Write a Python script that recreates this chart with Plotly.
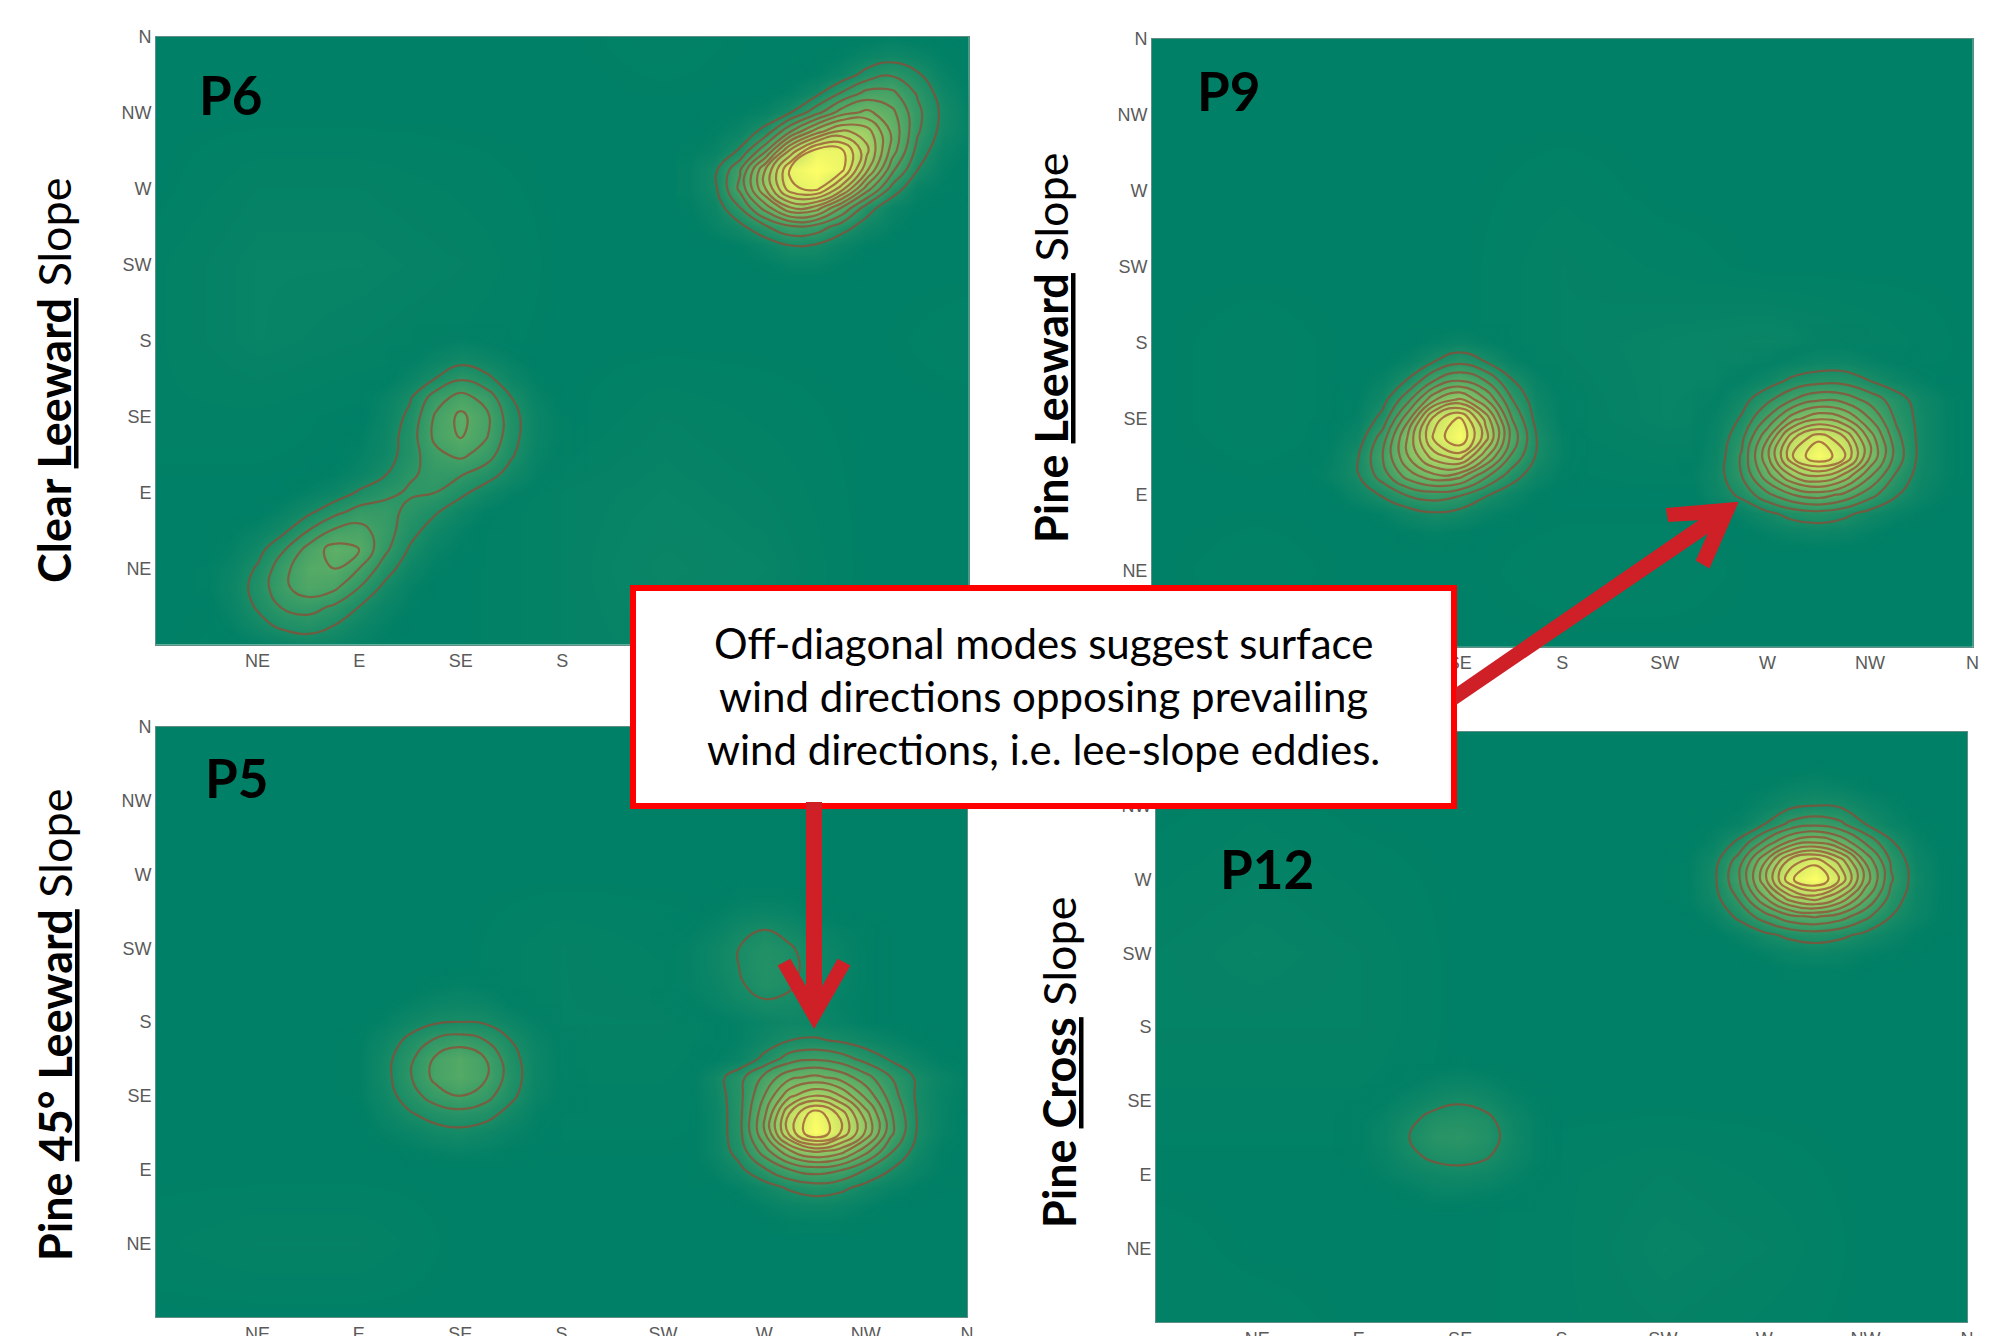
import plotly.graph_objects as go

W, H = 2001, 1336
COMPASS = ["NE", "E", "SE", "S", "SW", "W", "NW", "N"]
TICKS = [1, 2, 3, 4, 5, 6, 7, 8]
BG_AXIS = [0, 1, 2, 3, 4, 5, 6, 7, 8]
LEVEL_START, LEVEL_END, LEVEL_STEP = 10, 90, 8

# ---------- faint background density, y = 0..8 bottom to top ----------
P6_BG = [
    [0, 1, 0, 0, 2, 3, 2, 0, 0],
    [0, 0, 0, 0, 2, 4, 3, 0, 0],
    [0, 0, 0, 0, 2, 3, 2, 0, 0],
    [1, 1, 0, 0, 0, 2, 1, 0, 0],
    [1, 3, 2, 1, 0, 0, 0, 0, 1],
    [1, 3, 3, 2, 0, 0, 0, 0, 0],
    [0, 2, 2, 1, 0, 0, 0, 0, 0],
    [0, 0, 0, 0, 0, 0, 0, 0, 0],
    [0, 0, 0, 0, 0, 1, 0, 0, 0],
]
P9_BG = [
    [0, 0, 0, 0, 0, 0, 0, 0, 0],
    [0, 1, 0, 0, 1, 1, 0, 0, 0],
    [0, 0, 0, 0, 0, 0, 0, 0, 0],
    [0, 1, 0, 0, 1, 3, 2, 0, 0],
    [0, 1, 0, 0, 2, 3, 4, 2, 0],
    [0, 0, 0, 0, 2, 1, 0, 0, 0],
    [0, 0, 0, 0, 1, 0, 0, 0, 0],
    [0, 0, 0, 0, 0, 0, 0, 0, 0],
    [0, 0, 0, 0, 0, 0, 0, 0, 0],
]
P5_BG = [
    [0, 0, 0, 0, 0, 0, 0, 0, 0],
    [1, 2, 2, 0, 0, 0, 0, 0, 0],
    [0, 0, 0, 0, 0, 0, 0, 0, 0],
    [0, 0, 0, 0, 1, 1, 0, 0, 0],
    [0, 0, 0, 0, 2, 2, 0, 0, 0],
    [0, 0, 0, 0, 2, 1, 0, 0, 0],
    [0, 0, 0, 0, 0, 0, 0, 0, 0],
    [0, 0, 0, 0, 0, 0, 0, 0, 0],
    [0, 0, 0, 0, 0, 0, 0, 0, 0],
]
P12_BG = [
    [1, 1, 0, 0, 1, 2, 1, 0, 0],
    [1, 0, 0, 0, 1, 3, 2, 0, 0],
    [0, 0, 0, 0, 1, 2, 1, 0, 0],
    [1, 1, 1, 0, 0, 0, 0, 0, 0],
    [2, 2, 2, 0, 0, 0, 0, 0, 0],
    [2, 3, 2, 0, 0, 0, 0, 0, 0],
    [1, 2, 1, 0, 0, 0, 0, 0, 0],
    [0, 1, 0, 0, 0, 0, 0, 0, 0],
    [0, 0, 0, 0, 0, 0, 0, 0, 0],
]

# ---------- density modes on quarter-compass grids, percent of peak ----------
P6_A_X = [5.25, 5.5, 5.75, 6, 6.25, 6.5, 6.75, 7, 7.25, 7.5, 7.75, 8]
P6_A_Y = [4.75, 5, 5.25, 5.5, 5.75, 6, 6.25, 6.5, 6.75, 7, 7.25, 7.5, 7.75, 8]
P6_A_Z = [
    [0, 0, 0, 0, 0, 0, 0, 0, 0, 0, 0, 0],
    [0, 0, 0, 1, 3, 3, 1, 0, 0, 0, 0, 0],
    [0, 0, 1, 5, 10, 9, 4, 1, 0, 0, 0, 0],
    [0, 3, 8, 17, 25, 23, 14, 6, 2, 0, 0, 0],
    [1, 5, 18, 38, 58, 55, 34, 14, 4, 1, 0, 0],
    [2, 8, 28, 58, 88, 93, 70, 38, 15, 3, 1, 0],
    [2, 8, 25, 58, 92, 100, 93, 60, 28, 10, 2, 0],
    [1, 3, 11, 32, 68, 93, 92, 68, 38, 15, 4, 1],
    [0, 1, 4, 13, 34, 54, 68, 62, 40, 19, 7, 2],
    [0, 0, 1, 3, 10, 23, 38, 44, 36, 20, 8, 2],
    [0, 0, 0, 0, 2, 8, 19, 29, 28, 17, 6, 1],
    [0, 0, 0, 0, 0, 1, 5, 13, 17, 11, 3, 0],
    [0, 0, 0, 0, 0, 0, 1, 4, 6, 4, 1, 0],
    [0, 0, 0, 0, 0, 0, 0, 0, 1, 0, 0, 0],
]
P6_B_X = [0.5, 0.75, 1, 1.25, 1.5, 1.75, 2, 2.25, 2.5, 2.75, 3, 3.25, 3.5, 3.75, 4, 4.25]
P6_B_Y = [0, 0.25, 0.5, 0.75, 1, 1.25, 1.5, 1.75, 2, 2.25, 2.5, 2.75, 3, 3.25, 3.5, 3.75, 4, 4.25]
P6_B_Z = [
    [0, 0, 1, 3, 5, 4, 2, 1, 0, 0, 0, 0, 0, 0, 0, 0],
    [0, 2, 7, 12, 14, 10, 5, 2, 0, 0, 0, 0, 0, 0, 0, 0],
    [0, 4, 11, 19, 21, 17, 10, 4, 1, 0, 0, 0, 0, 0, 0, 0],
    [1, 5, 13, 24, 31, 28, 18, 8, 2, 0, 0, 0, 0, 0, 0, 0],
    [1, 4, 11, 23, 33, 34, 26, 14, 5, 1, 0, 0, 0, 0, 0, 0],
    [0, 2, 7, 17, 29, 37, 34, 20, 9, 3, 1, 0, 0, 0, 0, 0],
    [0, 1, 3, 8, 18, 27, 29, 22, 13, 6, 2, 0, 0, 0, 0, 0],
    [0, 0, 0, 3, 8, 15, 21, 21, 16, 11, 5, 1, 0, 0, 0, 0],
    [0, 0, 0, 0, 2, 5, 11, 16, 19, 18, 12, 6, 2, 0, 0, 0],
    [0, 0, 0, 0, 0, 1, 4, 9, 17, 20, 19, 14, 7, 2, 0, 0],
    [0, 0, 0, 0, 0, 0, 2, 6, 14, 24, 28, 22, 11, 3, 1, 0],
    [0, 0, 0, 0, 0, 0, 1, 5, 14, 28, 35, 27, 13, 4, 1, 0],
    [0, 0, 0, 0, 0, 0, 0, 4, 12, 27, 36, 28, 13, 4, 1, 0],
    [0, 0, 0, 0, 0, 0, 0, 3, 9, 22, 29, 23, 10, 3, 0, 0],
    [0, 0, 0, 0, 0, 0, 0, 0, 4, 10, 17, 12, 5, 1, 0, 0],
    [0, 0, 0, 0, 0, 0, 0, 0, 1, 4, 7, 5, 2, 0, 0, 0],
    [0, 0, 0, 0, 0, 0, 0, 0, 0, 1, 2, 1, 0, 0, 0, 0],
    [0, 0, 0, 0, 0, 0, 0, 0, 0, 0, 0, 0, 0, 0, 0, 0],
]
P9_A_X = [1.5, 1.75, 2, 2.25, 2.5, 2.75, 3, 3.25, 3.5, 3.75, 4, 4.25]
P9_A_Y = [1.25, 1.5, 1.75, 2, 2.25, 2.5, 2.75, 3, 3.25, 3.5, 3.75, 4, 4.25]
P9_A_Z = [
    [0, 0, 0, 0, 0, 0, 0, 0, 0, 0, 0, 0],
    [0, 0, 0, 0, 1, 2, 1, 0, 0, 0, 0, 0],
    [0, 0, 0, 2, 6, 9, 7, 3, 1, 0, 0, 0],
    [0, 0, 5, 11, 19, 22, 19, 11, 5, 1, 0, 0],
    [0, 3, 9, 22, 38, 48, 45, 28, 14, 5, 1, 0],
    [0, 2, 9, 26, 50, 70, 78, 52, 25, 9, 2, 0],
    [0, 1, 5, 22, 52, 84, 98, 70, 32, 10, 2, 0],
    [0, 0, 2, 13, 40, 78, 92, 64, 27, 7, 1, 0],
    [0, 0, 1, 7, 24, 49, 60, 43, 19, 5, 1, 0],
    [0, 0, 0, 3, 11, 26, 34, 26, 11, 3, 0, 0],
    [0, 0, 0, 0, 3, 10, 16, 10, 3, 0, 0, 0],
    [0, 0, 0, 0, 0, 2, 4, 2, 0, 0, 0, 0],
    [0, 0, 0, 0, 0, 0, 0, 0, 0, 0, 0, 0],
]
P9_B_X = [5.25, 5.5, 5.75, 6, 6.25, 6.5, 6.75, 7, 7.25, 7.5, 7.75, 8]
P9_B_Y = [1.25, 1.5, 1.75, 2, 2.25, 2.5, 2.75, 3, 3.25, 3.5, 3.75, 4, 4.25]
P9_B_Z = [
    [0, 0, 0, 0, 0, 0, 0, 0, 0, 0, 0, 0],
    [0, 0, 0, 2, 4, 5, 4, 2, 0, 0, 0, 0],
    [0, 0, 3, 8, 13, 15, 12, 7, 3, 1, 0, 0],
    [0, 5, 12, 24, 34, 38, 32, 21, 11, 4, 1, 0],
    [1, 6, 18, 39, 59, 67, 56, 35, 17, 6, 2, 0],
    [0, 5, 19, 48, 82, 98, 83, 50, 23, 7, 2, 0],
    [0, 4, 16, 41, 73, 88, 75, 47, 21, 7, 2, 0],
    [0, 3, 11, 27, 47, 57, 51, 34, 17, 7, 2, 0],
    [0, 1, 7, 16, 26, 33, 31, 23, 14, 6, 2, 0],
    [0, 0, 2, 6, 12, 15, 15, 10, 5, 2, 0, 0],
    [0, 0, 0, 1, 3, 5, 5, 3, 1, 0, 0, 0],
    [0, 0, 0, 0, 0, 1, 1, 0, 0, 0, 0, 0],
    [0, 0, 0, 0, 0, 0, 0, 0, 0, 0, 0, 0],
]
P5_A_X = [5, 5.25, 5.5, 5.75, 6, 6.25, 6.5, 6.75, 7, 7.25, 7.5, 7.75, 8]
P5_A_Y = [1.25, 1.5, 1.75, 2, 2.25, 2.5, 2.75, 3, 3.25, 3.5, 3.75, 4, 4.25, 4.5, 4.75, 5, 5.25, 5.5, 5.75, 6]
P5_A_Z = [
    [0, 0, 0, 0, 0, 1, 1, 1, 0, 0, 0, 0, 0],
    [0, 0, 0, 0, 2, 4, 5, 4, 2, 0, 0, 0, 0],
    [0, 0, 0, 2, 6, 11, 14, 12, 7, 3, 1, 0, 0],
    [0, 0, 2, 8, 17, 26, 30, 27, 18, 10, 4, 1, 0],
    [0, 0, 4, 13, 30, 49, 60, 54, 37, 19, 7, 1, 0],
    [0, 0, 4, 15, 41, 77, 100, 82, 57, 28, 10, 3, 0],
    [0, 0, 4, 15, 40, 75, 96, 80, 54, 27, 10, 3, 0],
    [0, 0, 5, 15, 34, 56, 66, 58, 40, 22, 9, 3, 1],
    [0, 0, 6, 15, 28, 40, 44, 39, 29, 18, 9, 4, 1],
    [0, 0, 1, 4, 12, 22, 25, 22, 15, 9, 4, 1, 0],
    [0, 0, 0, 2, 6, 10, 11, 9, 6, 3, 1, 0, 0],
    [0, 0, 0, 2, 4, 6, 5, 3, 1, 0, 0, 0, 0],
    [0, 1, 3, 6, 9, 8, 5, 2, 1, 0, 0, 0, 0],
    [1, 2, 4, 9, 13, 11, 6, 3, 1, 0, 0, 0, 0],
    [1, 2, 5, 10, 14, 12, 7, 3, 1, 0, 0, 0, 0],
    [1, 2, 5, 10, 13, 11, 6, 3, 1, 0, 0, 0, 0],
    [0, 1, 3, 7, 10, 7, 4, 2, 1, 0, 0, 0, 0],
    [0, 0, 1, 3, 4, 3, 1, 0, 0, 0, 0, 0, 0],
    [0, 0, 0, 1, 1, 1, 0, 0, 0, 0, 0, 0, 0],
    [0, 0, 0, 0, 0, 0, 0, 0, 0, 0, 0, 0, 0],
]
P5_B_X = [1.75, 2, 2.25, 2.5, 2.75, 3, 3.25, 3.5, 3.75, 4, 4.25]
P5_B_Y = [2, 2.25, 2.5, 2.75, 3, 3.25, 3.5, 3.75, 4, 4.25, 4.5, 4.75]
P5_B_Z = [
    [0, 0, 0, 0, 0, 0, 0, 0, 0, 0, 0],
    [0, 0, 0, 1, 2, 3, 2, 1, 0, 0, 0],
    [0, 0, 2, 4, 7, 8, 6, 3, 1, 0, 0],
    [0, 0, 4, 9, 13, 15, 13, 7, 2, 0, 0],
    [0, 1, 6, 14, 22, 26, 21, 12, 4, 1, 0],
    [0, 1, 7, 17, 28, 33, 27, 14, 5, 1, 0],
    [0, 1, 7, 16, 27, 33, 26, 13, 5, 1, 0],
    [0, 1, 5, 12, 19, 22, 18, 10, 4, 1, 0],
    [0, 0, 2, 6, 9, 10, 9, 5, 2, 0, 0],
    [0, 0, 0, 2, 4, 5, 4, 1, 0, 0, 0],
    [0, 0, 0, 0, 1, 2, 1, 0, 0, 0, 0],
    [0, 0, 0, 0, 0, 0, 0, 0, 0, 0, 0],
]
P12_A_X = [5, 5.25, 5.5, 5.75, 6, 6.25, 6.5, 6.75, 7, 7.25, 7.5, 7.75, 8]
P12_A_Y = [4.75, 5, 5.25, 5.5, 5.75, 6, 6.25, 6.5, 6.75, 7, 7.25, 7.5, 7.75]
P12_A_Z = [
    [0, 0, 0, 0, 0, 1, 1, 1, 0, 0, 0, 0, 0],
    [0, 0, 0, 0, 2, 4, 5, 4, 2, 1, 0, 0, 0],
    [0, 0, 0, 3, 8, 12, 14, 12, 8, 4, 1, 0, 0],
    [0, 0, 3, 12, 22, 32, 35, 30, 20, 10, 4, 1, 0],
    [0, 1, 7, 19, 41, 62, 70, 57, 35, 15, 5, 1, 0],
    [0, 1, 8, 25, 55, 88, 100, 81, 47, 19, 6, 1, 0],
    [0, 1, 7, 22, 49, 77, 87, 71, 41, 17, 5, 1, 0],
    [0, 0, 3, 12, 28, 44, 50, 41, 25, 11, 3, 0, 0],
    [0, 0, 1, 3, 10, 20, 24, 20, 10, 4, 1, 0, 0],
    [0, 0, 0, 1, 4, 8, 10, 9, 5, 2, 0, 0, 0],
    [0, 0, 0, 0, 1, 3, 4, 3, 1, 0, 0, 0, 0],
    [0, 0, 0, 0, 0, 0, 1, 0, 0, 0, 0, 0, 0],
    [0, 0, 0, 0, 0, 0, 0, 0, 0, 0, 0, 0, 0],
]
P12_B_X = [1.75, 2, 2.25, 2.5, 2.75, 3, 3.25, 3.5, 3.75, 4, 4.25]
P12_B_Y = [1.5, 1.75, 2, 2.25, 2.5, 2.75, 3, 3.25, 3.5]
P12_B_Z = [
    [0, 0, 0, 0, 0, 0, 0, 0, 0, 0, 0],
    [0, 0, 0, 1, 3, 3, 2, 1, 0, 0, 0],
    [0, 0, 2, 4, 6, 7, 6, 3, 1, 0, 0],
    [0, 1, 3, 8, 12, 13, 11, 6, 2, 0, 0],
    [0, 1, 4, 10, 16, 17, 14, 7, 2, 0, 0],
    [0, 1, 3, 8, 13, 14, 12, 6, 2, 0, 0],
    [0, 0, 1, 4, 7, 9, 7, 3, 1, 0, 0],
    [0, 0, 0, 1, 3, 4, 3, 1, 0, 0, 0],
    [0, 0, 0, 0, 0, 1, 0, 0, 0, 0, 0],
]

# ---------- text ----------
CALLOUT_LINES = [
    "Off-diagonal modes suggest surface",
    "wind directions opposing prevailing",
    "wind directions, i.e. lee-slope eddies.",
]

PANELS = [
    dict(box=(156, 968.5, 36.5, 644.5), bg=P6_BG, modes=[(P6_A_X, P6_A_Y, P6_A_Z), (P6_B_X, P6_B_Y, P6_B_Z)]),
    dict(box=(1152, 1972.5, 39, 646.6), bg=P9_BG, modes=[(P9_A_X, P9_A_Y, P9_A_Z), (P9_B_X, P9_B_Y, P9_B_Z)]),
    dict(box=(156, 967, 727, 1317), bg=P5_BG, modes=[(P5_A_X, P5_A_Y, P5_A_Z), (P5_B_X, P5_B_Y, P5_B_Z)]),
    dict(box=(1156, 1967, 732, 1322), bg=P12_BG, modes=[(P12_A_X, P12_A_Y, P12_A_Z), (P12_B_X, P12_B_Y, P12_B_Z)]),
]

SUMMER = [[0, "rgb(0,128,102)"], [1, "rgb(255,255,102)"]]
SUMMER_ALPHA = [
    [0, "rgba(0,128,102,0)"],
    [0.02, "rgba(5,130,102,1)"],
    [1, "rgba(255,255,102,1)"],
]
LINE_COLOR = "rgba(150,70,50,0.7)"
TICK_FONT = dict(family="Liberation Sans", size=18, color="#5a5a5a")
ARROW = "#cf2027"


def px(x):
    return x / W


def py(y):
    return 1 - y / H


fig = go.Figure()
layout = {}
for i, p in enumerate(PANELS):
    n = "" if i == 0 else str(i + 1)
    x0, x1, y0, y1 = p["box"]
    axis = dict(
        range=[0, 8], tickmode="array", showgrid=False, zeroline=False, automargin=False,
        showline=True, mirror=True, linecolor="#5f8f84", linewidth=1,
        ticks="", tickfont=TICK_FONT, tickvals=TICKS, ticktext=COMPASS, fixedrange=True,
    )
    layout["xaxis" + n] = dict(axis, domain=[px(x0), px(x1)], anchor="y" + n)
    layout["yaxis" + n] = dict(axis, domain=[py(y1), py(y0)], anchor="x" + n)
    ax = dict(xaxis="x" + n, yaxis="y" + n)
    fig.add_trace(go.Heatmap(z=p["bg"], x=BG_AXIS, y=BG_AXIS, zmin=0, zmax=100, zsmooth="best",
                             colorscale=SUMMER, showscale=False, hoverinfo="skip", **ax))
    for mx, my, mz in p["modes"]:
        fig.add_trace(go.Heatmap(z=mz, x=mx, y=my, zmin=0, zmax=100, zsmooth="best",
                                 colorscale=SUMMER_ALPHA, showscale=False, hoverinfo="skip", **ax))
        fig.add_trace(go.Contour(
            z=mz, x=mx, y=my, autocontour=False, showscale=False, hoverinfo="skip",
            contours=dict(coloring="none", start=LEVEL_START, end=LEVEL_END, size=LEVEL_STEP),
            line=dict(color=LINE_COLOR, width=2.2, smoothing=1.3), **ax))


def poly(points):
    return "M" + " L".join(f"{px(a):.5f},{py(b):.5f}" for a, b in points) + " Z"


DOWN_ARROW = [(807, 803), (821, 803), (821, 990), (838, 960), (849, 966), (814, 1027),
              (779, 966), (790, 960), (807, 990)]
DIAG_ARROW = [(1457, 688), (1702, 519), (1669, 521), (1667, 509), (1737, 503), (1709, 567),
              (1697, 560), (1710, 531), (1457, 703)]
shapes = [
    dict(type="rect", xref="paper", yref="paper", x0=px(633), x1=px(1454), y0=py(588), y1=py(806),
         fillcolor="white", line=dict(color="#ff0000", width=6), layer="above"),
]
for pts in (DOWN_ARROW, DIAG_ARROW):
    shapes.append(dict(type="path", xref="paper", yref="paper", path=poly(pts), fillcolor=ARROW,
                       line=dict(color=ARROW, width=2), layer="above"))

annotations = []


def text(x, y, s, size, family="Lato", angle=0):
    annotations.append(dict(xref="paper", yref="paper", x=px(x), y=py(y), text=s, showarrow=False,
                            xanchor="center", yanchor="middle", textangle=angle,
                            font=dict(family=family, size=size, color="black")))


for s, y in zip(CALLOUT_LINES, (643, 696, 749)):
    text(1043, y, s, 42)
for s, x, y in (("P6", 231, 94), ("P9", 1229, 91), ("P5", 237, 777), ("P12", 1267, 868)):
    text(x, y, f"<b>{s}</b>", 53)
for s, x, y in (
    ("<b>Clear <u>Leeward</u></b> Slope", 54, 380),
    ("<b>Pine <u>Leeward</u></b> Slope", 1051, 348),
    ("<b>Pine <u>45° Leeward</u></b> Slope", 55, 1025),
    ("<b>Pine <u>Cross</u></b> Slope", 1059, 1062),
):
    text(x, y, s, 45, angle=-90)

fig.update_layout(width=W, height=H, margin=dict(l=0, r=0, t=0, b=0), paper_bgcolor="white",
                  plot_bgcolor="rgb(0,128,102)", showlegend=False, shapes=shapes,
                  annotations=annotations, **layout)
fig.write_html("out.html", post_script="document.body.style.margin='0';document.body.style.overflow='hidden';",
               config=dict(displayModeBar=False))
